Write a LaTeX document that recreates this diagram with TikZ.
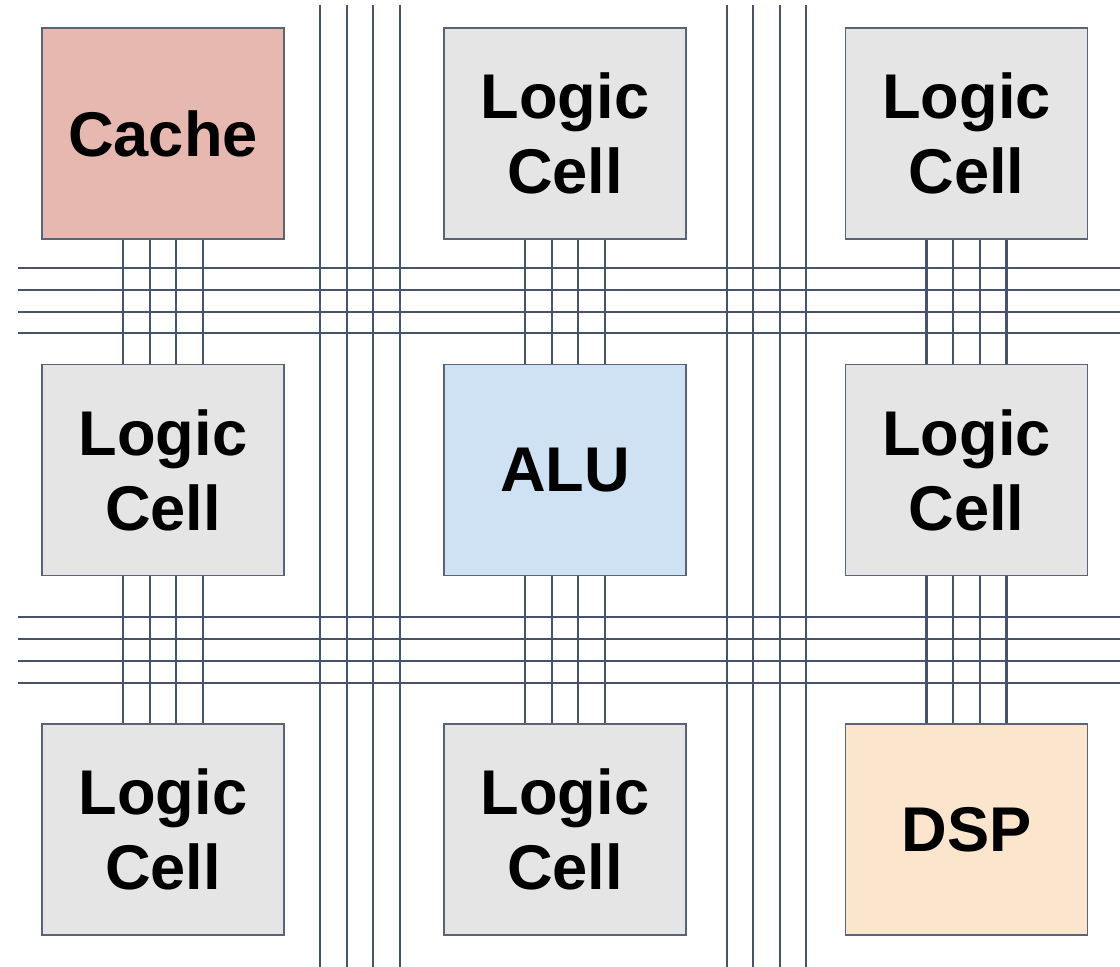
\documentclass[tikz,border=0pt]{standalone}
\usepackage{fontspec}
\setmainfont{Liberation Sans}
\usepackage{tikz}

\definecolor{wire}{HTML}{46536A}
\definecolor{cellgray}{HTML}{E5E5E5}
\definecolor{cachered}{HTML}{E6B8AF}
\definecolor{alublue}{HTML}{CFE2F3}
\definecolor{dspcream}{HTML}{FCE5CD}

\begin{document}
\begin{tikzpicture}[x=0.5pt, y=-0.5pt, line width=1.15pt,
    block/.style={draw=wire!90, line width=0.9pt, fill=cellgray,
      minimum width=121pt, minimum height=105.5pt, inner sep=0pt,
      align=center, font=\fontsize{31.6}{37.5}\selectfont\bfseries}]
            \useasboundingbox (0,0) rectangle (1120,967);

            % draw vertical routing channels
            \foreach \x in {320,347,373,400,727,753,780,806}
                \draw[color=wire] (\x,5) -- (\x,967);

            % draw horizontal routing channels
            \foreach \y in {268,290,312,333,617,639,661,683}
                \draw[color=wire] (18,\y) -- (1120,\y);

            % draw blocks
            \node[block, fill=cachered] (cache) at (163,133.5)   {Cache};
            \node[block] (lcB1) at (565,133.5)   {Logic\\Cell};
            \node[block] (lcC1) at (966.5,133.5) {Logic\\Cell};
            \node[block] (lcA2) at (163,470)     {Logic\\Cell};
            \node[block, fill=alublue] (alu) at (565,470) {ALU};
            \node[block] (lcC2) at (966.5,470)   {Logic\\Cell};
            \node[block] (lcA3) at (163,829.5)   {Logic\\Cell};
            \node[block] (lcB3) at (565,829.5)   {Logic\\Cell};
            \node[block, fill=dspcream] (dsp) at (966.5,829.5) {DSP};

            % draw local wires between stacked blocks
            \foreach \top/\bot in {cache/lcA2, lcA2/lcA3, lcB1/alu, alu/lcB3, lcC1/lcC2, lcC2/dsp}
                \foreach \dx in {-20pt,-6.67pt,6.67pt,20pt}
                    \draw[color=wire] ([xshift=\dx]\top.south) -- ([xshift=\dx]\bot.north);
        \end{tikzpicture}
\end{document}
